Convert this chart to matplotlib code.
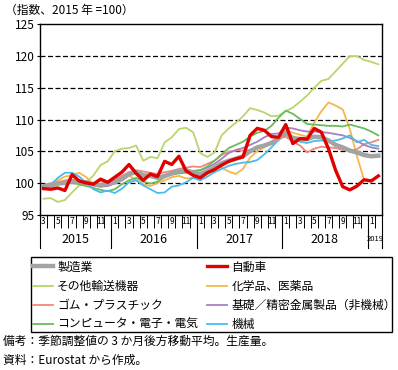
import numpy as np
import matplotlib
matplotlib.use('Agg')
import matplotlib.pyplot as plt
from matplotlib.patches import Rectangle

plt.rcParams['font.family'] = ['Noto Sans CJK JP', 'DejaVu Sans']

# 2015-03 .. 2019-02
months = list(range(3, 13)) + list(range(1, 13)) * 3 + [1, 2]
years = ['2015', '2016', '2017', '2018', '2019']
year_bounds = [0, 10, 22, 34, 46, 48]

manufacturing = [99.4, 99.6, 99.9, 100.0, 100.2, 100.2, 100.1, 99.8, 99.6, 99.9,
                 100.1, 100.6, 101.4, 101.7, 101.2, 101.1, 100.8, 101.1, 101.5, 101.9, 102.0, 101.6,
                 101.4, 101.8, 102.4, 103.1, 103.5, 103.8, 104.2, 105.0, 105.6, 105.9, 106.3, 107.0,
                 107.9, 107.1, 106.9, 106.9, 107.3, 107.2, 106.7, 106.0, 105.6, 105.1, 104.8, 104.4,
                 104.2, 104.3]
autos = [99.1, 99.0, 99.2, 98.8, 101.3, 100.3, 100.0, 99.8, 100.6, 100.1,
         100.9, 101.7, 102.9, 101.5, 100.4, 101.4, 101.0, 103.4, 102.9, 104.2, 101.9, 101.2,
         100.8, 101.6, 102.1, 102.8, 103.4, 103.8, 104.1, 107.5, 108.6, 108.3, 107.3, 107.2,
         109.2, 106.2, 107.0, 106.9, 108.6, 108.0, 105.4, 102.0, 99.4, 98.9, 99.5, 100.5,
         100.3, 101.1]
other_transport = [97.5, 97.6, 97.0, 97.3, 98.5, 99.6, 100.0, 101.2, 102.8, 103.4,
                   105.0, 105.4, 105.5, 105.9, 103.5, 104.1, 103.9, 106.4, 107.2, 108.5, 108.7, 108.0,
                   104.7, 104.1, 104.8, 107.5, 108.6, 109.5, 110.5, 111.8, 111.5, 111.1, 110.5, 110.6,
                   111.3, 111.9, 112.8, 113.8, 115.0, 116.1, 116.4, 117.6, 118.8, 120.0, 120.0, 119.4,
                   119.1, 118.7]
chemicals = [99.4, 99.9, 100.4, 101.0, 101.2, 101.6, 100.9, 99.7, 100.3, 99.7,
             100.2, 100.8, 101.2, 100.4, 99.8, 99.5, 100.0, 100.4, 100.9, 101.1, 100.7, 100.8,
             101.5, 102.0, 102.6, 102.4, 101.8, 101.4, 102.2, 104.0, 105.0, 105.6, 106.3, 107.2,
             108.4, 107.9, 107.6, 107.3, 109.5, 111.3, 112.7, 112.2, 111.6, 108.5, 104.2, 100.5,
             np.nan, np.nan]
rubber = [99.7, 99.9, 100.1, 100.4, 100.5, 100.3, 100.1, 99.9, 99.8, 100.0,
          100.5, 101.1, 101.7, 102.0, 101.8, 101.6, 101.4, 101.7, 101.9, 102.2, 102.4, 102.6,
          102.5, 103.0, 103.5, 104.4, 104.9, 105.1, 105.1, 105.2, 105.6, 106.0, 106.5, 107.0,
          107.3, 106.5, 105.9, 104.8, 105.4, 105.7, 105.6, 105.5, 105.2, 105.1, 105.3, 106.1,
          106.4, 106.8]
metals = [99.6, 99.8, 100.0, 100.1, 100.0, 99.9, 99.8, 99.6, 99.4, 99.5,
          99.9, 100.4, 101.2, 101.6, 101.2, 101.3, 100.8, 101.1, 101.6, 102.0, 102.0, 101.9,
          102.0, 102.4, 103.0, 103.8, 104.7, 105.2, 105.5, 106.0, 106.5, 107.2, 107.7, 107.8,
          108.7, 108.6, 108.3, 108.1, 108.1, 108.0, 107.9, 107.7, 107.5, 107.1, 106.6, 106.0,
          105.6, 105.4]
electronics = [99.6, 99.8, 100.0, 100.2, 100.0, 99.8, 99.5, 99.2, 98.9, 98.7,
               99.0, 99.8, 100.4, 100.8, 100.2, 99.9, 100.2, 100.9, 101.3, 101.5, 101.6, 101.8,
               102.0, 102.6, 103.5, 104.5, 105.5, 106.0, 106.5, 107.3, 107.9, 108.2, 109.0, 110.3,
               111.4, 110.9, 110.1, 109.3, 109.2, 109.1, 109.0, 109.0, 108.9, 109.2, 108.9, 108.6,
               108.1, 107.5]
machinery = [99.2, 99.7, 100.8, 101.6, 101.6, 101.0, 100.0, 99.0, 98.5, 98.8,
             98.4, 99.1, 100.1, 100.4, 99.6, 99.0, 98.4, 98.5, 99.4, 99.6, 100.1, 100.8,
             100.4, 101.0, 101.7, 102.2, 102.7, 103.0, 103.2, 103.3, 103.6, 104.5, 105.6, 106.8,
             108.0, 106.8, 106.5, 106.3, 106.6, 106.7, 106.5, 106.7, 107.0, 107.5, 106.4, 106.8,
             106.0, 105.8]

x = np.arange(len(months))
W, H = 398, 370

fig = plt.figure(figsize=(W / 100, H / 100), dpi=100)
ax = fig.add_axes([0.1005, 0.42, 0.859, 0.514])

thin = [
    (other_transport, 'その他輸送機器', '#b8d66c'),
    (chemicals, '化学品、医薬品', '#f7b54c'),
    (rubber, 'ゴム・プラスチック', '#f2877a'),
    (metals, '基礎／精密金属製品（非機械）', '#a77fc2'),
    (electronics, 'コンピュータ・電子・電気', '#6cba5c'),
    (machinery, '機械', '#4cbbec'),
]
lines = {}
for vals, name, col in thin:
    lines[name], = ax.plot(x, vals, color=col, lw=1.3, label=name)
lines['製造業'], = ax.plot(x, manufacturing, color='#a3a3a3', lw=3.2, label='製造業')
lines['自動車'], = ax.plot(x, autos, color='#e00000', lw=2.4, label='自動車')

ax.set_xlim(-0.5, len(months) - 0.5)
ax.set_ylim(95, 125)
ax.set_yticks(range(95, 126, 5))
ax.tick_params(axis='y', labelsize=8.5, length=2.5, width=0.8, pad=1.5)
for v in range(100, 125, 5):
    ax.axhline(v, color='black', lw=0.9, ls=(0, (4, 2)), zorder=0.5)
for s in ax.spines.values():
    s.set_linewidth(1.0)

# month labels on odd months, small ticks between months
odd = [i for i, m in enumerate(months) if m % 2 == 1]
ax.set_xticks(odd)
ax.set_xticklabels([str(months[i]) for i in odd], fontsize=6)
ax.set_xticks(np.arange(-0.5, len(months), 1), minor=True)
ax.tick_params(axis='x', which='major', length=0, pad=2)
ax.tick_params(axis='x', which='minor', length=9.5, width=0.7)

trans = ax.get_xaxis_transform()
for b in year_bounds:
    ax.plot([b - 0.5, b - 0.5], [0, -0.175], color='black', lw=0.8,
            transform=trans, clip_on=False)
for k, yr in enumerate(years):
    mid = (year_bounds[k] + year_bounds[k + 1]) / 2 - 0.5
    fs = 5.5 if yr == '2019' else 9
    ax.text(mid, -0.13, yr, transform=trans, ha='center', va='center', fontsize=fs)

fig.text(0.012, 0.972, '（指数、2015 年 =100）', fontsize=8.5, va='center', ha='left')

# legend box
fig.add_artist(Rectangle((30.7 / W, 1 - 331.7 / H), (392 - 30.7) / W, (331.7 - 257.3) / H,
                         transform=fig.transFigure, fill=False, edgecolor='black', lw=1.0))
order = ['製造業', 'その他輸送機器', 'ゴム・プラスチック', 'コンピュータ・電子・電気',
         '自動車', '化学品、医薬品', '基礎／精密金属製品（非機械）', '機械']
leg = fig.legend([lines[n] for n in order], order, ncol=2,
                 loc='upper left', bbox_to_anchor=(33 / W, 1 - 260.5 / H),
                 fontsize=8.5, frameon=False,
                 handlelength=1.7, handletextpad=0.35, labelspacing=0.52,
                 columnspacing=0.75, borderpad=0, borderaxespad=0)

fig.text(0.008, 0.077, '備考：季節調整値の 3 か月後方移動平均。生産量。', fontsize=8.5, va='center')
fig.text(0.008, 0.027, '資料：Eurostat から作成。', fontsize=8.5, va='center')

fig.savefig('out.png', dpi=100)
